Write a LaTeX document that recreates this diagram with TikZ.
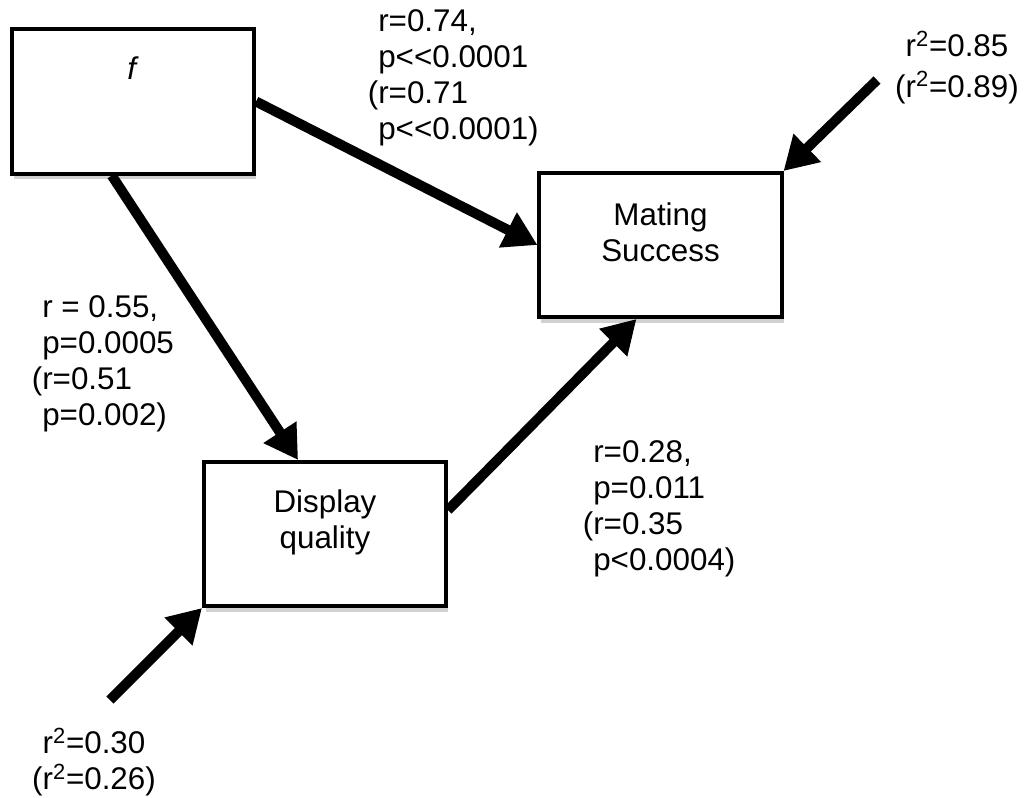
\documentclass[tikz,border=0pt]{standalone}
\usepackage{fontspec}
\setmainfont{Liberation Sans}
\usetikzlibrary{arrows.meta,shadows}

\tikzset{
varbox/.style={draw, line width=0.1cm, fill=white, minimum width=6.05cm, minimum height=3.6cm,
  inner sep=0pt, align=center,
  drop shadow={shadow xshift=0.05cm, shadow yshift=-0.14cm, opacity=0.3, fill=black!60}},
link/.style={line width=0.25cm, -{Triangle[length=0.83cm,width=0.93cm]}},
stat/.style={inner sep=0pt, align=left, anchor=north west},
}

\begin{document}
\begin{tikzpicture}[x=0.025cm, y=-0.025cm, font=\fontsize{22.3}{25.6}\selectfont]
\useasboundingbox (0,0) rectangle (1029,797);

% boxes
\node[varbox, text depth=1.65cm] (f) at (133,101.5) {\textit{f}};
\node[varbox, text depth=0.64cm] (ms) at (660.5,245) {Mating\\Success};
\node[varbox, text depth=0.76cm] (dq) at (325,534) {Display\\quality};

% free ends
\coordinate (e85) at (877,80);
\coordinate (e30) at (110,700);

% paths
\draw[link] (f.east) -- (ms.west);
\draw[link] (f.254) -- (dq.110);
\draw[link] (dq.11) -- (ms.252);
\draw[link] (e85) -- (ms.north east);
\draw[link] (e30) -- (dq.south west);

% coefficients
\node[stat] (rfm) at (378,9.5) {r=0.74,\\p<\kern0pt<0.0001\\\llap{(}r=0.71\\p<\kern0pt<0.0001)};
\node[stat] (rfd) at (42,295.5) {r = 0.55,\\p=0.0005\\\llap{(}r=0.51\\p=0.002)};
\node[stat] (rdm) at (593,440.5) {r=0.28,\\p=0.011\\\llap{(}r=0.35\\p<0.0004)};
\node[stat, align=center, anchor=north] (rsm) at (957,30.5) {r\textsuperscript{2}=0.85\\[0.12cm](r\textsuperscript{2}=0.89)};
\node[stat, align=center, anchor=north] (rsd) at (94,727.5) {r\textsuperscript{2}=0.30\\(r\textsuperscript{2}=0.26)};
\end{tikzpicture}
\end{document}
